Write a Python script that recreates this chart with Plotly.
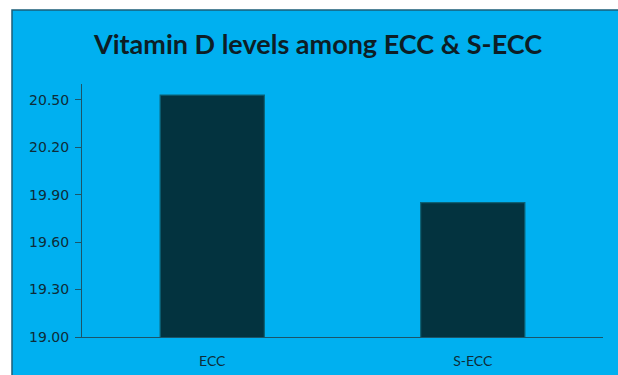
import plotly.graph_objects as go

categories = ["ECC", "S-ECC"]
vitamin_d = [20.53, 19.85]
y_ticks = [19.00, 19.30, 19.60, 19.90, 20.20, 20.50]
y_tick_labels = ["19.00", "19.30", "19.60", "19.90", "20.20", "20.50"]

W, H = 618, 375
L, R, T, B = 82, 15, 84, 38
pw, ph = W - L - R, H - T - B

def px_x(px):
    return (px - L) / pw

def px_y(py):
    return (H - B - py) / ph

fig = go.Figure()
fig.add_trace(go.Bar(
    x=categories,
    y=vitamin_d,
    width=0.40,
    marker=dict(color="#03333F", line=dict(color="#0C6276", width=1.2)),
    hoverinfo="x+y",
))

fig.update_layout(
    width=W, height=H,
    margin=dict(l=L, r=R, t=T, b=B),
    paper_bgcolor="white",
    plot_bgcolor="rgba(0,0,0,0)",
    showlegend=False,
    title=dict(
        text="<b>Vitamin D levels among ECC & S-ECC</b>",
        x=px_x(318), xref="paper", xanchor="center",
        y=1 - 45 / H, yref="container", yanchor="middle",
        font=dict(family="Lato", size=27, color="#0D1E26"),
    ),
    shapes=[dict(
        type="rect", xref="paper", yref="paper",
        x0=px_x(12), x1=px_x(640), y0=px_y(400), y1=px_y(10),
        fillcolor="#00B0F0", line=dict(color="#1A5E78", width=1.5),
        layer="below",
    )],
)

fig.update_yaxes(
    range=[19.0, 20.6], automargin=False,
    tickvals=y_ticks, ticktext=y_tick_labels,
    showgrid=False, zeroline=False,
    showline=True, linecolor="#1B5569", linewidth=1,
    ticks="outside", ticklen=6, tickcolor="#1B5569",
    ticklabelstandoff=3,
    tickfont=dict(family="DejaVu Sans", size=14, color="#0E2C38"),
)
fig.update_xaxes(
    automargin=False,
    showgrid=False, zeroline=False,
    showline=True, linecolor="#1B5569", linewidth=1,
    ticks="", ticklabelstandoff=11,
    tickfont=dict(family="Lato", size=14, color="#0E2C38"),
)

fig.write_html("out.html")
